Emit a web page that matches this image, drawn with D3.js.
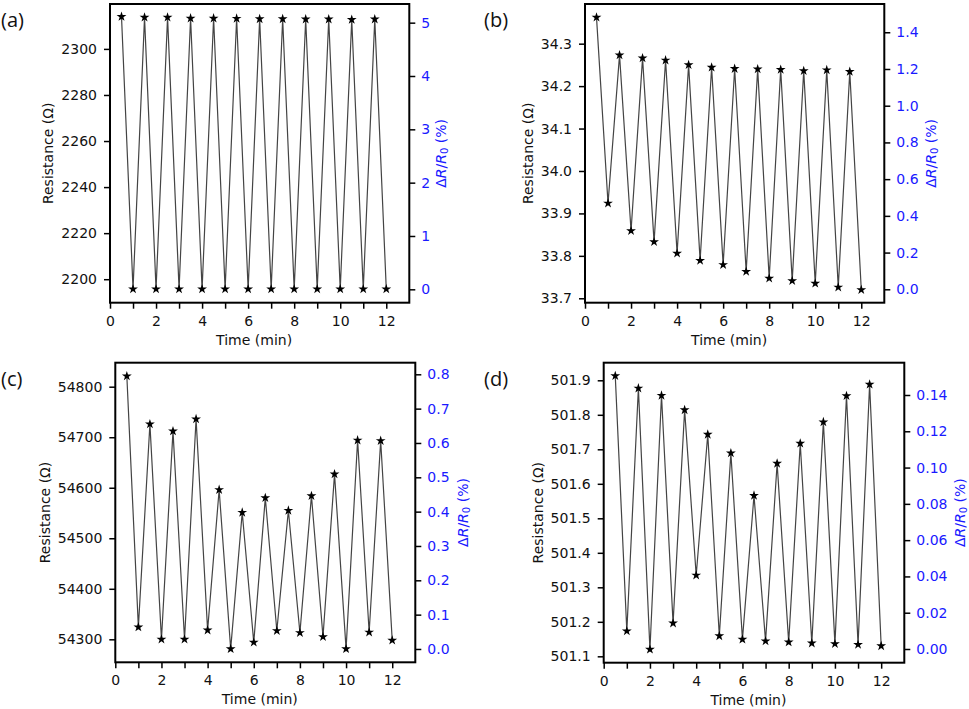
<!DOCTYPE html>
<html>
<head>
<meta charset="utf-8">
<script src="https://cdn.jsdelivr.net/npm/d3@7"></script>
<style>
  body { margin: 0; background: #fff; }
  svg { display: block; }
</style>
</head>
<body>
<svg id="chart" width="969" height="709"></svg>
<script>
// time points (min), shared by all four panels
var times = [0.5, 1, 1.5, 2, 2.5, 3, 3.5, 4, 4.5, 5, 5.5, 6, 6.5, 7, 7.5, 8, 8.5, 9, 9.5, 10, 10.5, 11, 11.5, 12];
var xTicks = [0, 1, 2, 3, 4, 5, 6, 7, 8, 9, 10, 11, 12];

// resistance readings (ohm)
var resA = [2314.0, 2195.7, 2313.7, 2195.7, 2313.7, 2195.7, 2313.3, 2195.7, 2313.3, 2195.7, 2313.2, 2195.7,
            2313.0, 2195.7, 2313.0, 2195.7, 2312.9, 2195.7, 2312.9, 2195.7, 2312.7, 2195.7, 2312.9, 2195.7];
var resB = [34.362, 33.924, 34.273, 33.859, 34.266, 33.833, 34.261, 33.806, 34.250, 33.789, 34.244, 33.779,
            34.241, 33.763, 34.240, 33.747, 34.239, 33.741, 34.236, 33.735, 34.238, 33.726, 34.234, 33.720];
var resC = [54821, 54324, 54726, 54300, 54712, 54300, 54736, 54318, 54596, 54281, 54551, 54294,
            54580, 54317, 54555, 54313, 54584, 54305, 54627, 54281, 54694, 54314, 54693, 54298];
var resD = [501.913, 501.173, 501.877, 501.120, 501.856, 501.196, 501.814, 501.335, 501.743, 501.159, 501.689, 501.149,
            501.566, 501.144, 501.659, 501.141, 501.717, 501.138, 501.779, 501.136, 501.855, 501.134, 501.888, 501.130];

// axis ticks
var leftTicksA = [2200, 2220, 2240, 2260, 2280, 2300];
var rightTicksA = [0, 1, 2, 3, 4, 5];
var leftTicksB = [33.7, 33.8, 33.9, 34.0, 34.1, 34.2, 34.3];
var rightTicksB = [0, 0.2, 0.4, 0.6, 0.8, 1.0, 1.2, 1.4];
var leftTicksC = [54300, 54400, 54500, 54600, 54700, 54800];
var rightTicksC = [0, 0.1, 0.2, 0.3, 0.4, 0.5, 0.6, 0.7, 0.8];
var leftTicksD = [501.1, 501.2, 501.3, 501.4, 501.5, 501.6, 501.7, 501.8, 501.9];
var rightTicksD = [0, 0.02, 0.04, 0.06, 0.08, 0.10, 0.12, 0.14];

var svg = d3.select("#chart");
var FONT = "DejaVu Sans, sans-serif";

function drawPanel(p) {
  var x = d3.scaleLinear().domain([0, 13]).range([p.left, p.right]);
  var y = d3.scaleLinear().domain(p.yDom).range([p.bottom, p.top]);
  var y2 = d3.scaleLinear().domain(p.y2Dom).range([p.bottom, p.top]);
  var g = svg.append("g");

  var xAxis = g.append("g")
      .attr("transform", "translate(0," + p.bottom + ")")
      .call(d3.axisBottom(x).tickValues(xTicks).tickSize(6).tickPadding(7)
        .tickFormat(function(d) { return d % 2 === 0 ? d : ""; }));

  var yAxis = g.append("g")
      .attr("transform", "translate(" + p.left + ",0)")
      .call(d3.axisLeft(y).tickValues(p.yTicks).tickSize(6).tickPadding(7)
        .tickFormat(d3.format(p.yFmt)));

  var y2Axis = g.append("g")
      .attr("transform", "translate(" + p.right + ",0)")
      .call(d3.axisRight(y2).tickValues(p.y2Ticks).tickSize(6).tickPadding(6)
        .tickFormat(d3.format(p.y2Fmt)));

  [xAxis, yAxis, y2Axis].forEach(function(a) {
    a.attr("font-size", null).attr("font-family", null);
    a.select(".domain").remove();
    a.selectAll(".tick line").attr("stroke", "#000").attr("stroke-width", 1.5);
    a.selectAll(".tick text")
      .attr("fill", "#111")
      .style("font-family", FONT)
      .style("font-size", "14px");
  });
  y2Axis.selectAll(".tick text").attr("fill", "#1a1aff");

  // frame
  g.append("rect")
      .attr("x", p.left).attr("y", p.top)
      .attr("width", p.right - p.left).attr("height", p.bottom - p.top)
      .attr("fill", "none").attr("stroke", "#000").attr("stroke-width", 2);

  var pts = times.map(function(t, i) { return [t, p.values[i]]; });

  g.append("path")
      .datum(pts)
      .attr("fill", "none")
      .attr("stroke", "#444")
      .attr("stroke-width", 1.2)
      .attr("d", d3.line().x(function(d) { return x(d[0]); }).y(function(d) { return y(d[1]); }));

  g.selectAll(".mark")
      .data(pts)
      .enter().append("path")
      .attr("transform", function(d) { return "translate(" + x(d[0]) + "," + y(d[1]) + ")"; })
      .attr("d", d3.symbol().type(d3.symbolStar).size(30))
      .attr("fill", "#000");

  // axis titles
  var midY = (p.top + p.bottom) / 2;
  g.append("text")
      .attr("transform", "translate(" + p.yLabelX + "," + midY + ") rotate(-90)")
      .attr("text-anchor", "middle")
      .attr("dominant-baseline", "central")
      .style("font-family", FONT)
      .style("font-size", "14px")
      .attr("fill", "#111")
      .text("Resistance (Ω)");

  var r = g.append("text")
      .attr("transform", "translate(" + p.y2LabelX + "," + midY + ") rotate(-90)")
      .attr("text-anchor", "middle")
      .attr("dominant-baseline", "central")
      .style("font-family", FONT)
      .style("font-size", "14px")
      .attr("fill", "#1a1aff");
  r.append("tspan").text("Δ");
  r.append("tspan").style("font-style", "italic").text("R");
  r.append("tspan").text("/");
  r.append("tspan").style("font-style", "italic").text("R");
  r.append("tspan").attr("dy", 3).style("font-size", "10px").text("0");
  r.append("tspan").attr("dy", -3).text(" (%)");

  g.append("text")
      .attr("x", (x(0) + x(12)) / 2 + 6)
      .attr("y", p.bottom + 37)
      .attr("text-anchor", "middle")
      .attr("dominant-baseline", "central")
      .style("font-family", FONT)
      .style("font-size", "14px")
      .attr("fill", "#111")
      .text("Time (min)");

  g.append("text")
      .attr("x", p.tagX).attr("y", p.tagY)
      .style("font-family", "Open Sans, sans-serif")
      .style("font-size", "20px")
      .attr("fill", "#111")
      .text(p.tag);
}

drawPanel({ tag: "(a)", tagX: 1, tagY: 27, left: 110, right: 409.3, top: 4, bottom: 302.7,
  yDom: [2189.8, 2319.5], y2Dom: [-0.251, 5.35], yTicks: leftTicksA, y2Ticks: rightTicksA,
  yFmt: "d", y2Fmt: "d", values: resA, yLabelX: 48, y2LabelX: 441 });

drawPanel({ tag: "(b)", tagX: 484, tagY: 27, left: 585, right: 884.3, top: 4, bottom: 302.7,
  yDom: [33.6896, 34.3935], y2Dom: [-0.073, 1.554], yTicks: leftTicksB, y2Ticks: rightTicksB,
  yFmt: ".1f", y2Fmt: ".1f", values: resB, yLabelX: 528, y2LabelX: 931 });

drawPanel({ tag: "(c)", tagX: 1, tagY: 386, left: 115.3, right: 415.3, top: 362.7, bottom: 662.3,
  yDom: [54254.5, 54847.5], y2Dom: [-0.0388, 0.8338], yTicks: leftTicksC, y2Ticks: rightTicksC,
  yFmt: "d", y2Fmt: ".1f", values: resC, yLabelX: 45, y2LabelX: 463 });

drawPanel({ tag: "(d)", tagX: 484, tagY: 386, left: 603.7, right: 904.3, top: 362.7, bottom: 662.7,
  yDom: [501.0815, 501.951], y2Dom: [-0.00755, 0.1578], yTicks: leftTicksD, y2Ticks: rightTicksD,
  yFmt: ".1f", y2Fmt: ".2f", values: resD, yLabelX: 538, y2LabelX: 960 });
</script>
</body>
</html>
